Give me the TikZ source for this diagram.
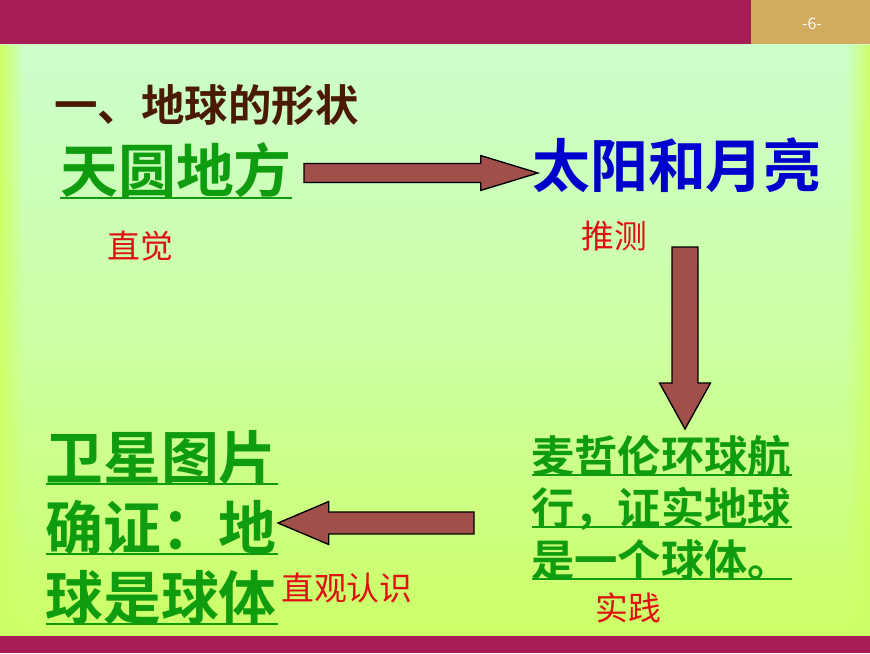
\documentclass[tikz,border=0pt]{standalone}
\usepackage{fontspec}
\setmainfont{Noto Sans CJK SC}
\newfontfamily\cjkb{Noto Sans CJK SC Bold}
\usetikzlibrary{calc,fadings}
\definecolor{maroon}{HTML}{A61C54}
\definecolor{tan}{HTML}{D1AB5E}
\definecolor{arrowfill}{HTML}{A04F4B}
\definecolor{grn}{HTML}{0F9D0F}
\definecolor{blu}{HTML}{0000CC}
\definecolor{titlec}{HTML}{4A1A05}
\definecolor{redc}{HTML}{E01010}
\definecolor{pale}{HTML}{CCFFCC}
\definecolor{lime}{HTML}{CCFF66}
\newcommand\blockarrow[6]{% from, to, half shaft, half head, head length, total length
  \draw[blockarr] ($(#1)!#3!90:(#2)$) -- ($(#1)!#3!-90:(#2)$)
    -- ($($(#1)!#6-#5!(#2)$)!#3!-90:(#2)$)
    -- ($($(#1)!#6-#5!(#2)$)!#4!-90:(#2)$)
    -- (#2)
    -- ($($(#1)!#6-#5!(#2)$)!#4!90:(#2)$)
    -- ($($(#1)!#6-#5!(#2)$)!#3!90:(#2)$) -- cycle;}
\tikzset{
  x=0.75pt,y=-0.75pt,
  txt/.style={inner sep=0pt,anchor=base west},
  big/.style={txt,font=\cjkb\fontsize{43.4pt}{43.4pt}\selectfont,text=grn},
  mid/.style={txt,font=\cjkb\fontsize{32.5pt}{32.5pt}\selectfont,text=grn},
  lbl/.style={txt,font=\fontsize{24.6pt}{24.6pt}\selectfont,text=redc},
  ubig/.style={draw=grn,line width=2.2pt},
  umid/.style={draw=grn,line width=1.6pt},
  blockarr/.style={draw=black,line width=1pt,fill=arrowfill,line join=miter},
}
\begin{document}
\begin{tikzpicture}
\useasboundingbox (0,0) rectangle (870,653);
% background
\fill[top color=pale,bottom color=lime,middle color=pale!60!lime] (0,44) rectangle (870,636);
\fill[lime,path fading=east] (0,44) rectangle (24,636);
\fill[lime,path fading=west] (846,44) rectangle (870,636);
% bands
\fill[maroon] (0,0) rectangle (870,44);
\fill[tan] (751,0) rectangle (870,44);
\fill[maroon] (0,636) rectangle (870,653);
\node[inner sep=0pt,text=white!92!tan,font=\fontsize{12pt}{12pt}\selectfont] (page) at (812,23.5) {-6-};
% title
\node[txt,font=\cjkb\fontsize{32.6pt}{32.6pt}\selectfont,text=titlec] (title) at (54,121) {一、地球的形状};
% main texts
\node[big] (tianyuan) at (60,192) {天圆地方};
\node[big,text=blu] (taiyang) at (532,187) {太阳和月亮};
\node[big] (weixing1) at (45,479) {卫星图片};
\node[big] (weixing2) at (45,549) {确证：地};
\node[big] (weixing3) at (45,619) {球是球体};
\node[mid] (mai1) at (531,472) {麦哲伦环球航};
\node[mid] (mai2) at (531,524) {行，证实地球};
\node[mid] (mai3) at (531,576) {是一个球体。};
% labels
\node[lbl] (zhijue) at (107,258) {直觉};
\node[lbl] (tuice) at (581,248) {推测};
\node[lbl] (guan) at (281,600) {直观认识};
\node[lbl] (shijian) at (595,620) {实践};
% underlines
\draw[ubig] (60,198) -- (292,198);
\draw[ubig] (46,484) -- (278,484);
\draw[ubig] (46,554) -- (278,554);
\draw[ubig] (46,624) -- (278,624);
\draw[umid] (532,475) -- (792,475);
\draw[umid] (532,527) -- (792,527);
\draw[umid] (532,579) -- (792,579);
% connectors
\coordinate (a1s) at (tianyuan.base east |- 0,173);
\coordinate (a1s) at ($(a1s)+(12,0)$);
\coordinate (a1e) at ($(taiyang.base west)+(6,-14)$);
\coordinate (a2s) at (685,247);
\coordinate (a2e) at ($(mai1.base west)+(154,-43)$);
\coordinate (a3s) at ($(mai2.base west)+(-57,-1)$);
\coordinate (a3e) at (weixing2.base east |- a3s);
\coordinate (a3e) at ($(a3e)+(1,0)$);
\blockarrow{a1s}{a1e}{7.1pt}{13.1pt}{43pt}{175.5pt}
\blockarrow{a2s}{a2e}{9.7pt}{19.1pt}{34.5pt}{136.5pt}
\blockarrow{a3s}{a3e}{8.2pt}{16.1pt}{37pt}{146pt}
\end{tikzpicture}
\end{document}
